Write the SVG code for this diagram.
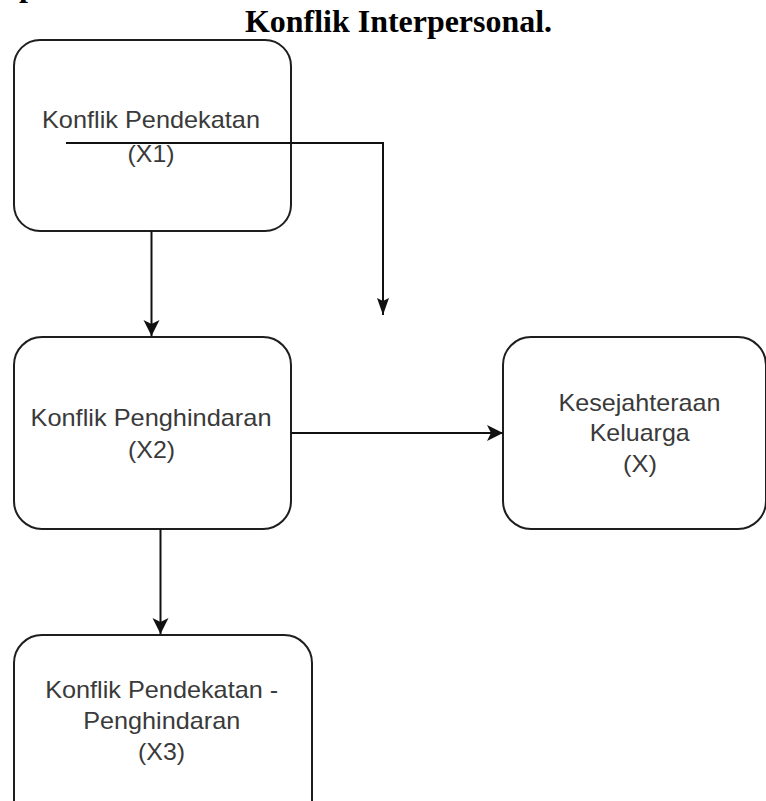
<svg xmlns="http://www.w3.org/2000/svg" width="766" height="801" viewBox="0 0 766 801">
  <style>
    .box { fill: #ffffff; stroke: #1e1e1e; stroke-width: 2; }
    .lbl { font-family: "Liberation Sans", Arial, sans-serif; font-size: 24px; fill: #3a3a3a; text-anchor: middle; }
    .title { font-family: "Liberation Serif", "Times New Roman", serif; font-weight: bold; fill: #000000; }
    .conn { fill: none; stroke: #111111; stroke-width: 2; }
  </style>
  <defs>
    <marker id="arr" markerUnits="userSpaceOnUse" markerWidth="18" markerHeight="18" refX="16" refY="8" orient="auto">
      <path d="M0,0 L16,8 L0,16 L4,8 Z" fill="#111111"/>
    </marker>
    <marker id="arrN" markerUnits="userSpaceOnUse" markerWidth="18" markerHeight="14" refX="17" refY="6" orient="auto">
      <path d="M0,0 L17,6 L0,12 L3,6 Z" fill="#111111"/>
    </marker>
  </defs>
  <rect width="766" height="801" fill="#ffffff"/>

  <text class="title" x="19" y="-4.5" font-size="32">p</text>
  <text class="title" x="245" y="32" font-size="31" textLength="307" lengthAdjust="spacingAndGlyphs">Konflik Interpersonal.</text>

  <g id="n1">
    <rect class="box" x="14" y="40" width="277" height="191" rx="26" ry="26"/>
    <text class="lbl" x="151" y="128" textLength="218" lengthAdjust="spacingAndGlyphs">Konflik Pendekatan</text>
    <text class="lbl" x="151" y="162" textLength="47" lengthAdjust="spacingAndGlyphs">(X1)</text>
  </g>

  <g id="n2">
    <rect class="box" x="14" y="337" width="277" height="192" rx="28" ry="28"/>
    <text class="lbl" x="151" y="426" textLength="241" lengthAdjust="spacingAndGlyphs">Konflik Penghindaran</text>
    <text class="lbl" x="151.5" y="458" textLength="47" lengthAdjust="spacingAndGlyphs">(X2)</text>
  </g>

  <g id="n3">
    <rect class="box" x="503" y="337" width="263" height="192" rx="28" ry="28"/>
    <text class="lbl" x="639.5" y="411" textLength="162" lengthAdjust="spacingAndGlyphs">Kesejahteraan</text>
    <text class="lbl" x="639.7" y="441" textLength="100" lengthAdjust="spacingAndGlyphs">Keluarga</text>
    <text class="lbl" x="640" y="472" textLength="34" lengthAdjust="spacingAndGlyphs">(X)</text>
  </g>

  <g id="n4">
    <rect class="box" x="14" y="635" width="298" height="200" rx="28" ry="28"/>
    <text class="lbl" x="161.7" y="698" textLength="233" lengthAdjust="spacingAndGlyphs">Konflik Pendekatan -</text>
    <text class="lbl" x="161.7" y="728.5" textLength="157" lengthAdjust="spacingAndGlyphs">Penghindaran</text>
    <text class="lbl" x="161.5" y="760" textLength="47" lengthAdjust="spacingAndGlyphs">(X3)</text>
  </g>

  <g id="connectors">
    <path class="conn" d="M151.5,231 L151.5,336" marker-end="url(#arr)"/>
    <path class="conn" d="M66,143 L383,143 L383,315" marker-end="url(#arrN)"/>
    <path class="conn" d="M291,433 L503,433" marker-end="url(#arr)"/>
    <path class="conn" d="M160.5,529 L160.5,634" marker-end="url(#arr)"/>
  </g>
</svg>
